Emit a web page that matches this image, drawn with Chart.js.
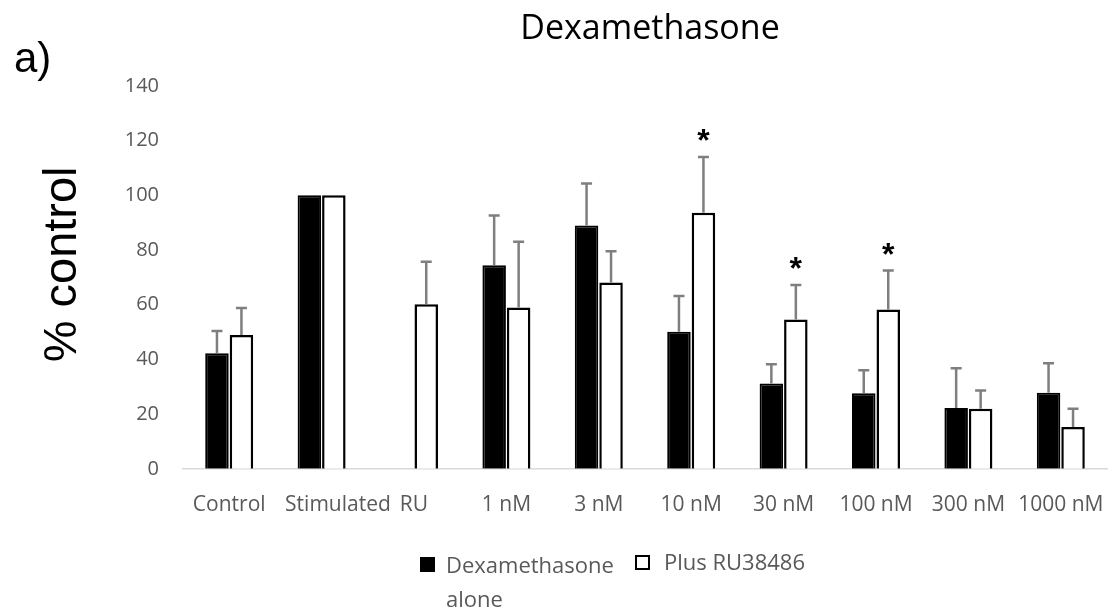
<!DOCTYPE html>
<html>
<head>
<meta charset="utf-8">
<script src="https://cdn.jsdelivr.net/npm/chart.js@4"></script>
<style>
  html, body { margin: 0; padding: 0; background: #fff; overflow: hidden; }
  #wrap { position: relative; width: 1113px; height: 612px; }
  canvas { display: block; }
  #label-a { position: absolute; left: 14px; top: 37px; font: 42px "Liberation Sans", Arial, sans-serif; color: #000; line-height: 1; }
  .leg { position: absolute; font: 22px "Open Sans", sans-serif; color: #595959; line-height: 34px; white-space: nowrap; }
  .sw { position: absolute; width: 15px; height: 15px; box-sizing: border-box; }
</style>
</head>
<body>
<div id="wrap">
  <canvas id="c" width="1113" height="612"></canvas>
  <div id="label-a">a)</div>
  <div class="sw" style="left:420px; top:557px; background:#000;"></div>
  <div class="leg" style="left:446px; top:547px;">Dexamethasone<br>alone</div>
  <div class="sw" style="left:635px; top:555px; background:#fff; border:2.5px solid #000;"></div>
  <div class="leg" style="left:664px; top:544px;">Plus RU38486</div>
</div>
<script>
const categories = ["Control", "      Stimulated", "RU", "1 nM", "3 nM", "10 nM", "30 nM", "100 nM", "300 nM", "1000 nM"];
const dexAlone = [42.3, 100, null, 74.4, 89.0, 50.1, 31.2, 27.6, 22.2, 27.8];
const dexAloneErrTop = [50.4, null, null, 92.6, 104.3, 63.2, 38.2, 36.0, 36.8, 38.6];
const plusRU = [48.9, 100, 60.2, 59.0, 68.1, 93.6, 54.6, 58.3, 22.0, 15.3];
const plusRUErrTop = [58.8, null, 75.7, 83.0, 79.6, 114.0, 67.2, 72.5, 28.6, 22.0];
const plusRUSignificant = [false, false, false, false, false, true, true, true, false, false];
const yTicks = [0, 20, 40, 60, 80, 100, 120, 140];
const chartTitle = 'Dexamethasone';
const yTitle = '% control';

const errTops = [dexAloneErrTop, plusRUErrTop];

const errorBarPlugin = {
  id: 'errorBars',
  afterDatasetsDraw(chart) {
    const ctx = chart.ctx;
    const y = chart.scales.y;
    ctx.save();
    chart.data.datasets.forEach((ds, di) => {
      const meta = chart.getDatasetMeta(di);
      meta.data.forEach((bar, i) => {
        const top = errTops[di][i];
        if (top == null || ds.data[i] == null) return;
        const yt = y.getPixelForValue(top);
        ctx.strokeStyle = '#7f7f7f';
        ctx.lineWidth = 2.5;
        ctx.beginPath();
        ctx.moveTo(bar.x, bar.y);
        ctx.lineTo(bar.x, yt);
        ctx.moveTo(bar.x - 5.5, yt);
        ctx.lineTo(bar.x + 5.5, yt);
        ctx.stroke();
        if (di === 1 && plusRUSignificant[i]) {
          ctx.fillStyle = '#000';
          ctx.font = 'bold 32px "Liberation Sans", Arial, sans-serif';
          ctx.textAlign = 'center';
          ctx.textBaseline = 'alphabetic';
          ctx.fillText('*', bar.x, yt - 6);
        }
      });
    });
    ctx.restore();
  }
};

const titlesPlugin = {
  id: 'titles',
  afterDraw(chart) {
    const ctx = chart.ctx;
    const a = chart.chartArea;
    ctx.save();
    ctx.fillStyle = '#000';
    ctx.textAlign = 'center';
    ctx.textBaseline = 'alphabetic';
    ctx.font = '34px "Open Sans", sans-serif';
    ctx.fillText(chartTitle, (a.left + a.right) / 2 + 5, 39);
    ctx.translate(63, (a.top + a.bottom) / 2 - 13);
    ctx.rotate(-Math.PI / 2);
    ctx.textBaseline = 'middle';
    ctx.font = '47px "Liberation Sans", Arial, sans-serif';
    ctx.fillText(yTitle, 0, 0);
    ctx.restore();
  }
};

new Chart(document.getElementById('c'), {
  type: 'bar',
  data: {
    labels: categories,
    datasets: [
      { label: 'Dexamethasone alone', data: dexAlone, backgroundColor: '#000', borderColor: '#000', borderWidth: 2 },
      { label: 'Plus RU38486', data: plusRU, backgroundColor: '#fff', borderColor: '#000', borderWidth: 2.5 }
    ]
  },
  options: {
    responsive: false,
    animation: false,
    devicePixelRatio: 1,
    layout: { padding: { left: 30, right: 6, top: 86, bottom: 70 } },
    datasets: { bar: { categoryPercentage: 0.53, barPercentage: 0.96 } },
    plugins: {
      legend: { display: false },
      tooltip: { enabled: false },
      title: { display: false }
    },
    scales: {
      x: {
        afterFit(scale) { scale.paddingLeft = 0; scale.paddingRight = 0; },
        grid: { display: false, drawTicks: false },
        border: { display: true, color: '#d9d9d9', width: 1.5 },
        ticks: { color: '#595959', font: { family: '"Open Sans", sans-serif', size: 21 }, padding: 24, maxRotation: 0, autoSkip: false }
      },
      y: {
        min: 0, max: 140,
        afterBuildTicks(scale) { scale.ticks = yTicks.map(v => ({ value: v })); },
        afterFit(scale) { scale.width = 153; scale.paddingTop = 0; },
        grid: { display: false, drawTicks: false },
        border: { display: false },
        ticks: { color: '#595959', font: { family: '"Open Sans", sans-serif', size: 20 }, padding: 24 }
      }
    }
  },
  plugins: [errorBarPlugin, titlesPlugin]
});
</script>
</body>
</html>
